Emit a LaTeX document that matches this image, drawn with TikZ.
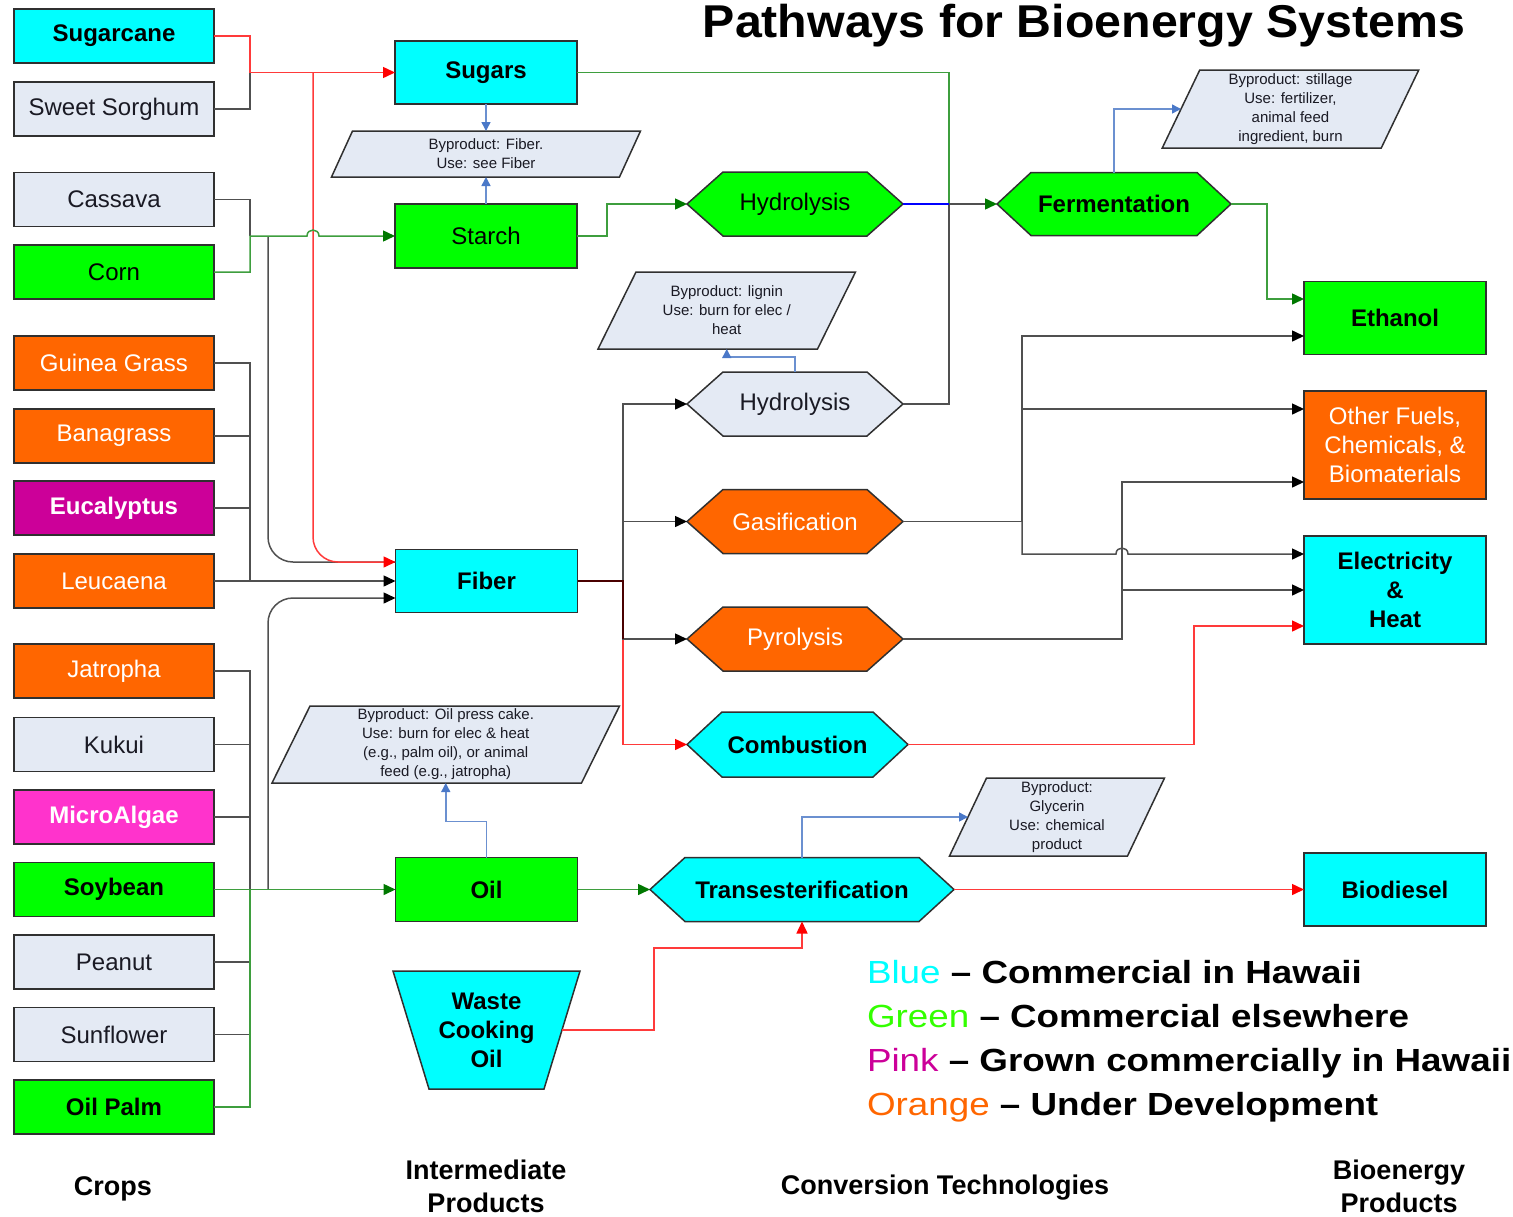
\documentclass[tikz,border=0pt]{standalone}
\usepackage{fontspec}
\setmainfont{Liberation Sans}
\usetikzlibrary{arrows.meta,calc}
\pgfdeclarelayer{bg}
\pgfsetlayers{bg,main}
\definecolor{cy}{HTML}{00FFFF}
\definecolor{gr}{HTML}{00FF00}
\definecolor{orn}{HTML}{FF6600}
\definecolor{lg}{HTML}{E4EAF4}
\definecolor{eucc}{HTML}{CC0099}
\definecolor{pnk}{HTML}{FF33CC}
\definecolor{edge}{HTML}{303030}
\definecolor{redl}{HTML}{FF3A3A}
\definecolor{grl}{HTML}{3E9E3E}
\definecolor{gra}{HTML}{007800}
\definecolor{gyl}{HTML}{505050}
\definecolor{bll}{HTML}{6B90D0}
\definecolor{bla}{HTML}{4A78C8}
\definecolor{txt}{HTML}{1A1A24}
\definecolor{mar}{HTML}{4A0000}
\definecolor{leggreen}{HTML}{33FF00}
\newcommand\fs[2]{\fontsize{#1}{#2}\selectfont}
\newcommand\hexshape[3]{%
 \begin{pgfonlayer}{bg}
 \filldraw[shp,fill=#3] ($(#1.north west)+(#2,0)$) -- ($(#1.north east)+(-#2,0)$) -- (#1.east) -- ($(#1.south east)+(-#2,0)$) -- ($(#1.south west)+(#2,0)$) -- (#1.west) -- cycle;
 \end{pgfonlayer}}
\newcommand\parashape[2]{%
 \begin{pgfonlayer}{bg}
 \filldraw[shp,fill=lg] ($(#1.north west)+(#2/2,0)$) -- ($(#1.north east)+(#2/2,0)$) -- ($(#1.south east)+(-#2/2,0)$) -- ($(#1.south west)+(-#2/2,0)$) -- cycle;
 \end{pgfonlayer}}
\newcommand\legline[2]{\scalebox{1.15}[1]{{\mdseries #1} -- #2}}
\tikzset{
 shp/.style={draw=edge,line width=1.5pt,line join=miter},
 crop/.style={draw=edge,line width=1.5pt,minimum width=200pt,minimum height=54pt,inner sep=0pt,outer sep=0pt,align=center,font=\fs{24}{29}},
 bold/.style={font=\fs{24}{29}\bfseries},
 mid/.style={crop,minimum width=182pt,minimum height=63pt},
 prod/.style={crop,minimum width=182pt},
 anch/.style={inner sep=0pt,outer sep=0pt,align=center,font=\fs{24}{29}},
 hexa/.style={anch,minimum width=216pt,minimum height=64pt},
 byp/.style={anch,font=\fs{15}{19},text=txt},
 lab/.style={anch,font=\fs{27}{33}\bfseries},
 leg/.style={anch,anchor=base west,font=\fs{32}{40}\bfseries},
 con/.style={line width=1.5pt},
 redc/.style={con,draw=redl,-{Triangle[length=12pt,width=11pt,color=red]}},
 redn/.style={con,draw=redl},
 grc/.style={con,draw=grl,-{Triangle[length=12pt,width=11pt,color=gra]}},
 grn/.style={con,draw=grl},
 gyc/.style={con,draw=gyl,-{Triangle[length=12pt,width=11pt,color=black]}},
 gyn/.style={con,draw=gyl},
 blc/.style={con,draw=bll,-{Triangle[length=9pt,width=9pt,color=bla]}},
}
\begin{document}
\begin{tikzpicture}[x=1pt,y=-1pt]
\useasboundingbox (0,0) rectangle (1513,1216);
% crops
\node[crop,fill=cy,bold] (sc) at (114,36) {Sugarcane};
\node[crop,fill=lg,text=txt] (ss) at (114,109) {Sweet Sorghum};
\node[crop,fill=lg,text=txt] (cas) at (114,199.5) {Cassava};
\node[crop,fill=gr] (corn) at (114,272) {Corn};
\node[crop,fill=orn,text=white] (gg) at (114,363) {Guinea Grass};
\node[crop,fill=orn,text=white] (bana) at (114,436) {Banagrass};
\node[crop,fill=eucc,text=white,bold] (euc) at (114,508) {Eucalyptus};
\node[crop,fill=orn,text=white] (leu) at (114,581) {Leucaena};
\node[crop,fill=orn,text=white] (jat) at (114,671) {Jatropha};
\node[crop,fill=lg,text=txt] (kuk) at (114,744.5) {Kukui};
\node[crop,fill=pnk,text=white,bold] (mic) at (114,817) {MicroAlgae};
\node[crop,fill=gr,bold] (soy) at (114,889.5) {Soybean};
\node[crop,fill=lg,text=txt] (pea) at (114,962) {Peanut};
\node[crop,fill=lg,text=txt] (sun) at (114,1034.5) {Sunflower};
\node[crop,fill=gr,bold] (opl) at (114,1107) {Oil Palm};
% intermediate
\node[mid,fill=cy,bold] (sug) at (486,72.5) {Sugars};
\node[mid,fill=gr,minimum height=64pt] (sta) at (486,236) {Starch};
\node[mid,fill=cy,bold] (fib) at (486.5,581) {Fiber};
\node[mid,fill=gr,bold,minimum height=64pt] (oil) at (486.5,889.5) {Oil};
\node[anch,bold,minimum width=187pt,minimum height=118pt] (wco) at (486.5,1030) {Waste\\Cooking\\Oil};
\begin{pgfonlayer}{bg}
\filldraw[shp,fill=cy] (wco.north west) -- (wco.north east) -- ($(wco.south east)+(-36,0)$) -- ($(wco.south west)+(36,0)$) -- cycle;
\end{pgfonlayer}
% byproducts
\node[byp,minimum width=288pt,minimum height=46pt] (bpf) at (486,154) {Byproduct: Fiber.\\Use: see Fiber};
\parashape{bpf}{21}
\node[byp,minimum width=219.5pt,minimum height=77pt] (bpl) at (726.75,310.5) {Byproduct: lignin\\Use: burn for elec /\\heat};
\parashape{bpl}{38}
\node[byp,minimum width=219pt,minimum height=78pt] (bps) at (1290.5,109) {Byproduct: stillage\\Use: fertilizer,\\animal feed\\ingredient, burn};
\parashape{bps}{37.5}
\node[byp,minimum width=309.5pt,minimum height=77pt] (bpo) at (445.75,744.5) {Byproduct: Oil press cake.\\Use: burn for elec \& heat\\(e.g., palm oil), or animal\\feed (e.g., jatropha)};
\parashape{bpo}{38}
\node[byp,minimum width=178pt,minimum height=78pt] (bpg) at (1057,817) {Byproduct:\\Glycerin\\Use: chemical\\product};
\parashape{bpg}{37}
% conversion
\node[hexa] (hy1) at (795,204) {Hydrolysis};
\hexshape{hy1}{36}{gr}
\node[hexa,text=txt] (hy2) at (795,404) {Hydrolysis};
\hexshape{hy2}{36}{lg}
\node[hexa,text=white] (gas) at (795,521.5) {Gasification};
\hexshape{gas}{36}{orn}
\node[hexa,text=white] (pyr) at (795,639) {Pyrolysis};
\hexshape{pyr}{36}{orn}
\node[hexa,bold,minimum width=221pt,minimum height=65pt] (com) at (797.5,744.5) {Combustion};
\hexshape{com}{35}{cy}
\node[hexa,bold,minimum width=304pt] (tra) at (802,889.5) {Transesterification};
\hexshape{tra}{35}{cy}
\node[hexa,bold,minimum width=234pt,minimum height=63pt] (fer) at (1114,204) {Fermentation};
\hexshape{fer}{34}{gr}
% products
\node[prod,fill=gr,bold,minimum height=73pt] (eth) at (1395,318) {Ethanol};
\node[prod,fill=orn,text=white,minimum height=108pt] (ofc) at (1395,445) {Other Fuels,\\Chemicals, \&\\Biomaterials};
\node[prod,fill=cy,bold,minimum height=108pt] (ele) at (1395,590) {Electricity\\\&\\Heat};
\node[prod,fill=cy,bold,minimum height=73pt] (bio) at (1395,889.5) {Biodiesel};
% titles
\node[anch,anchor=base,font=\fs{46}{52}\bfseries] (title) at (1084,37) {\scalebox{1.05}[1]{Pathways for Bioenergy Systems}};
\node[lab] (lc) at (113,1189) {Crops};
\node[lab] (li) at (486,1186) {Intermediate\\Products};
\node[lab] (lt) at (945,1188) {Conversion Technologies};
\node[lab] (lb) at (1399,1186) {Bioenergy\\Products};
\node[leg] (l1) at (867,983) {\legline{\textcolor{cy}{Blue}}{Commercial in Hawaii}};
\node[leg] (l2) at (867,1027) {\legline{\textcolor{leggreen}{Green}}{Commercial elsewhere}};
\node[leg] (l3) at (867,1071) {\legline{\textcolor{eucc}{Pink}}{Grown commercially in Hawaii}};
\node[leg] (l4) at (867,1115) {\legline{\textcolor{orn}{Orange}}{Under Development}};
% coordinates
\coordinate (rj) at (313,72.5);
\coordinate (cj) at (268,236);
\coordinate (oj) at (268,889.5);
\coordinate (fj) at (949,204);
\coordinate (fx) at (623,581);
\coordinate (gx) at (1022,521.5);
\coordinate (px) at (1122,639);
% crop connectors
\draw[gyn] (ss.east) -| (250,72.5);
\draw[redc] (sc.east) -| (250,72.5) -- (sug.west);
\draw[gyn] (cas.east) -| (250,236);
\draw[gyn,rounded corners=25pt] (cj) |- ($(fib.west)+(0,-19)$);
\draw[redc,rounded corners=25pt] (rj) |- ($(fib.west)+(0,-19)$);
\draw[grc] (corn.east) -| (250,236) -- (307,236) .. controls (307,228) and (319,228) .. (319,236) -- (sta.west);
\draw[gyn] (gg.east) -| (250,581);
\draw[gyn] (bana.east) -- (250,436);
\draw[gyn] (euc.east) -- (250,508);
\draw[gyc] (leu.east) -- (fib.west);
\draw[gyn] (jat.east) -| (250,889.5);
\draw[gyn] (kuk.east) -- (250,744.5);
\draw[gyn] (mic.east) -- (250,817);
\draw[gyn] (pea.east) -- (250,962);
\draw[gyn] (sun.east) -- (250,1034.5);
\draw[gyc,rounded corners=25pt] (oj) |- ($(fib.west)+(0,17)$);
\draw[grn] (opl.east) -| (250,889.5);
\draw[grc] (soy.east) -- (oil.west);
% intermediate connectors
\draw[blc] (sug.south) -- (bpf.north);
\draw[blc] (sta.north) -- (bpf.south);
\draw[grc] (sta.east) -- ++(30,0) |- (hy1.west);
\draw[grn] (sug.east) -| (fj);
\draw[gyn] (hy2.east) -| (fj);
\draw[con,draw=blue] (hy1.east) -- (fj);
\draw[con,draw=gyl,-{Triangle[length=12pt,width=11pt,color=gra]}] (fj) -- (fer.west);
\draw[blc] (fer.north) |- (bps.west);
\draw[grc] (fer.east) -| ($(eth.west)+(-37,-19)$) -- ($(eth.west)+(0,-19)$);
\draw[blc] (hy2.north) -- ++(0,-15) -| (bpl.south);
\draw[redc] (fib.east) -| ($(com.west)+(-64,0)$) -- (com.west);
\draw[gyc] (fx) |- (hy2.west);
\draw[gyc] (fx) |- (gas.west);
\draw[gyc] (fx) |- (pyr.west);
\draw[con,draw=mar] (fib.east) -- (fx) -- (623,639);
\draw[gyn] (gas.east) -- (gx);
\draw[gyc] (gx) |- ($(eth.west)+(0,18)$);
\draw[gyc] (gx) |- ($(ofc.west)+(0,-36)$);
\draw[gyc] (gx) |- (1116,554) .. controls (1116,546) and (1128,546) .. (1128,554) -- ($(ele.west)+(0,-36)$);
\draw[gyc] (pyr.east) -| ($(ofc.west)+(-182,37)$) -- ($(ofc.west)+(0,37)$);
\draw[gyc] (px) |- (ele.west);
\draw[redc] (com.east) -| ($(ele.west)+(-110,36)$) -- ($(ele.west)+(0,36)$);
\draw[grc] (oil.east) -- (tra.west);
\draw[blc] (oil.north) -- ++(0,-36) -| (bpo.south);
\draw[blc] (tra.north) |- (bpg.west);
\draw[redc] (tra.east) -- (bio.west);
\draw[redc] ($(wco.east)+(-18,0)$) -- ++(92,0) |- ($(tra.south)+(0,26.5)$) -- (tra.south);
\end{tikzpicture}
\end{document}
